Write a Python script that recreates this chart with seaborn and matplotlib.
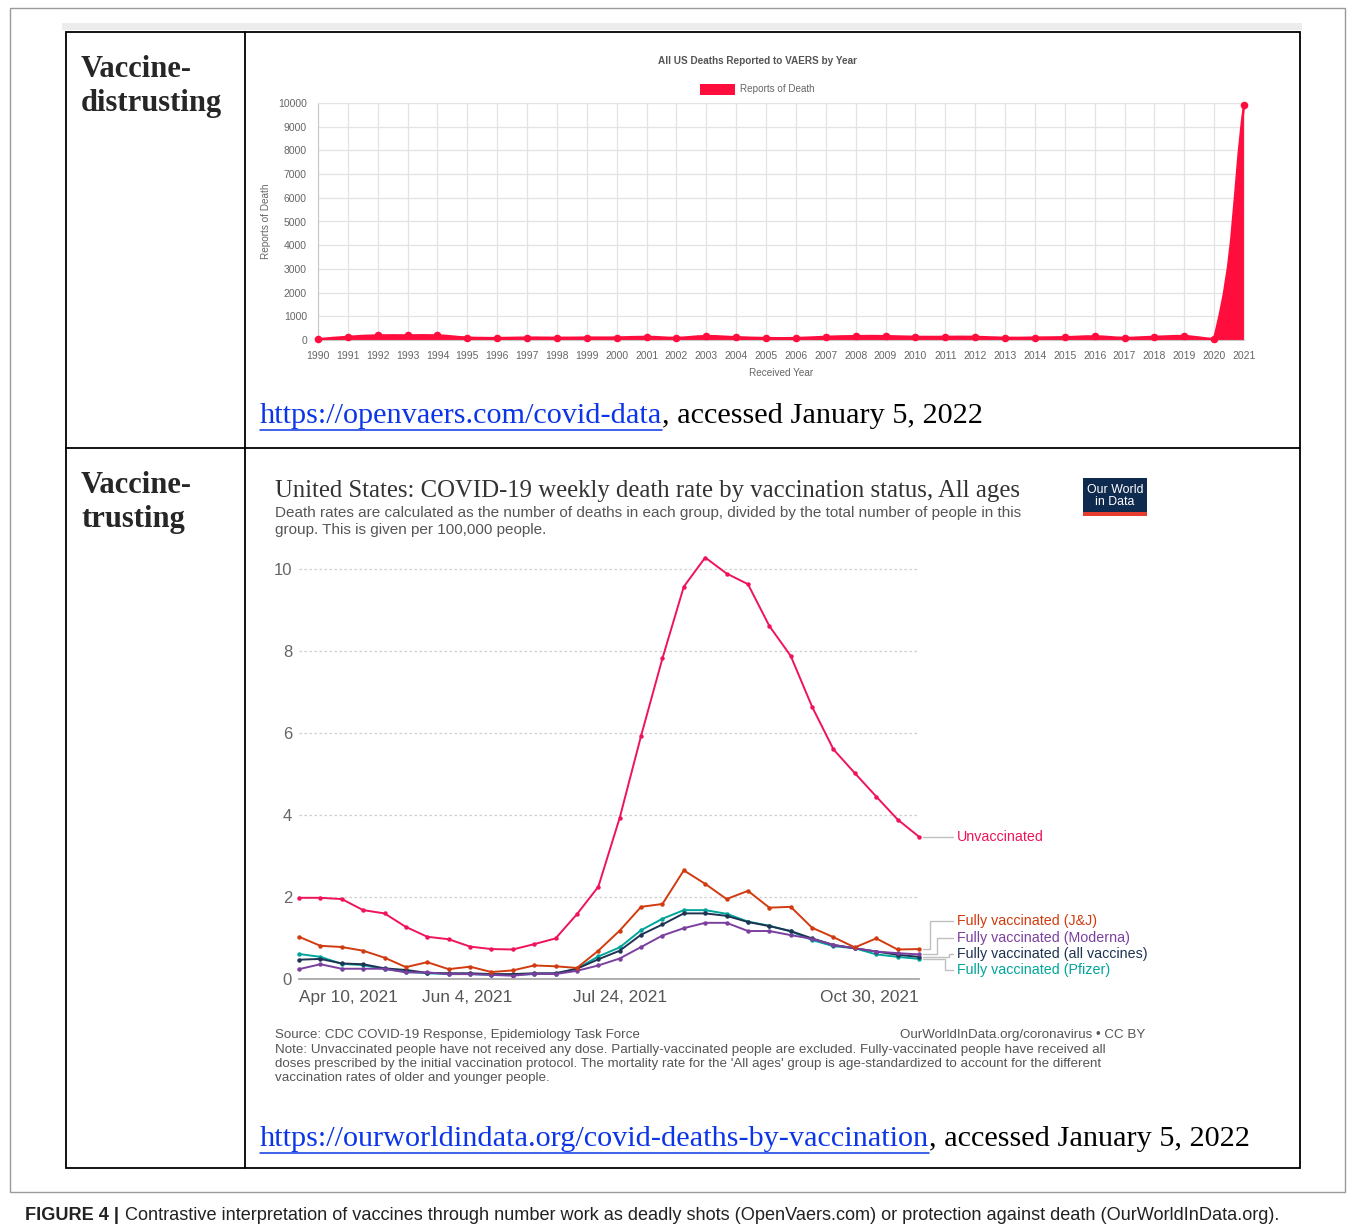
import numpy as np
import pandas as pd
import seaborn as sns
import matplotlib.pyplot as plt
import matplotlib.dates as mdates
from matplotlib.patches import Rectangle, PathPatch
from matplotlib.lines import Line2D
from matplotlib.path import Path

# --- top panel: VAERS deaths by year ---
years = list(range(1990, 2022))
deaths = [30, 130, 190, 190, 190, 100, 80, 100, 90, 100, 100, 130, 90, 160, 115, 80,
          80, 130, 160, 160, 130, 130, 130, 90, 100, 115, 150, 90, 130, 160, 60, 9900]

# --- bottom panel: OWID weekly death rate per 100k ---
weeks = ['2021-04-10', '2021-04-17', '2021-04-24', '2021-05-01', '2021-05-08', '2021-05-15',
         '2021-05-22', '2021-05-29', '2021-06-05', '2021-06-12', '2021-06-19', '2021-06-26',
         '2021-07-03', '2021-07-10', '2021-07-17', '2021-07-24', '2021-07-31', '2021-08-07',
         '2021-08-14', '2021-08-21', '2021-08-28', '2021-09-04', '2021-09-11', '2021-09-18',
         '2021-09-25', '2021-10-02', '2021-10-09', '2021-10-16', '2021-10-23', '2021-10-30']
unvax = [1.98, 1.98, 1.95, 1.68, 1.60, 1.27, 1.03, 0.97, 0.79, 0.73, 0.72, 0.85, 0.99, 1.58, 2.25,
         3.93, 5.93, 7.82, 9.57, 10.28, 9.89, 9.63, 8.61, 7.88, 6.64, 5.60, 5.02, 4.45, 3.89, 3.47]
jj = [1.03, 0.81, 0.78, 0.69, 0.52, 0.29, 0.41, 0.24, 0.30, 0.17, 0.21, 0.33, 0.31, 0.27, 0.69,
      1.18, 1.76, 1.83, 2.65, 2.32, 1.95, 2.15, 1.74, 1.76, 1.25, 1.02, 0.77, 0.99, 0.72, 0.73]
moderna = [0.24, 0.36, 0.25, 0.25, 0.25, 0.16, 0.16, 0.12, 0.12, 0.10, 0.08, 0.13, 0.12, 0.20, 0.33,
           0.50, 0.78, 1.06, 1.24, 1.37, 1.37, 1.17, 1.17, 1.07, 0.98, 0.83, 0.75, 0.67, 0.63, 0.60]
all_vax = [0.47, 0.49, 0.38, 0.36, 0.26, 0.22, 0.15, 0.14, 0.14, 0.12, 0.12, 0.14, 0.14, 0.25, 0.48,
           0.69, 1.08, 1.33, 1.60, 1.60, 1.54, 1.39, 1.29, 1.17, 0.99, 0.83, 0.75, 0.67, 0.59, 0.54]
pfizer = [0.61, 0.54, 0.37, 0.34, 0.24, 0.18, 0.14, 0.12, 0.12, 0.10, 0.10, 0.12, 0.13, 0.25, 0.55,
          0.77, 1.19, 1.47, 1.68, 1.68, 1.59, 1.40, 1.30, 1.16, 0.95, 0.80, 0.75, 0.60, 0.54, 0.49]

status_names = ['Fully vaccinated (Pfizer)', 'Fully vaccinated (all vaccines)',
                'Fully vaccinated (Moderna)', 'Fully vaccinated (J&J)', 'Unvaccinated']
status_colors = ['#00a59b', '#1f3352', '#7b3fa0', '#d13b0f', '#ef1359']
label_y = [0.22, 0.61, 1.0, 1.41, 3.47]

W, H = 1355, 1230
sns.set_style('white')
plt.rcParams['font.family'] = ['Liberation Sans', 'DejaVu Sans']

fig = plt.figure(figsize=(W / 100, H / 100), dpi=100)


def fx(px):
    return px / W


def fy(py):
    return 1 - py / H


def hline(x0, x1, y, **kw):
    fig.add_artist(Line2D([fx(x0), fx(x1)], [fy(y), fy(y)], transform=fig.transFigure, **kw))


def vline(x, y0, y1, **kw):
    fig.add_artist(Line2D([fx(x), fx(x)], [fy(y0), fy(y1)], transform=fig.transFigure, **kw))


def smooth_path(xs, ys, sx, sy, tension=0.4):
    # chart.js style bezier through the points (sx, sy = pixels per data unit)
    P = np.column_stack([np.asarray(xs, float) * sx, np.asarray(ys, float) * sy])
    n = len(P)
    cp_in, cp_out = P.copy(), P.copy()
    for i in range(n):
        prev = P[max(i - 1, 0)]
        nxt = P[min(i + 1, n - 1)]
        d01 = np.hypot(*(P[i] - prev))
        d12 = np.hypot(*(nxt - P[i]))
        tot = d01 + d12 if d01 + d12 > 0 else 1
        cp_in[i] = P[i] - tension * d01 / tot * (nxt - prev)
        cp_out[i] = P[i] + tension * d12 / tot * (nxt - prev)
    cp_in[:, 1] = np.maximum(cp_in[:, 1], 0)
    cp_out[:, 1] = np.maximum(cp_out[:, 1], 0)
    verts = [P[0]]
    codes = [Path.MOVETO]
    for i in range(n - 1):
        verts += [cp_out[i], cp_in[i + 1], P[i + 1]]
        codes += [Path.CURVE4] * 3
    verts = np.array(verts) / np.array([sx, sy])
    return verts, codes


# page frame, ruler strip and table
fig.add_artist(Rectangle((fx(10), fy(1192)), fx(1345) - fx(10), fy(8) - fy(1192),
                         transform=fig.transFigure, fill=False, ec='#9a9a9a', lw=1))
fig.add_artist(Rectangle((fx(62), fy(30)), fx(1302) - fx(62), fy(23) - fy(30),
                         transform=fig.transFigure, fc='#ececec', ec='none'))
fig.add_artist(Rectangle((fx(66), fy(1168)), fx(1300) - fx(66), fy(32) - fy(1168),
                         transform=fig.transFigure, fill=False, ec='black', lw=1.3))
vline(245, 32, 1168, color='black', lw=1.3)
hline(66, 1300, 448, color='black', lw=1.3)

for word, ypx in [('Vaccine-', 77), ('distrusting', 111), ('Vaccine-', 493), ('trusting', 527)]:
    fig.text(fx(81), fy(ypx), word, family='Liberation Serif', weight='bold',
             fontsize=22, va='baseline', ha='left')

# ---------------- top chart ----------------
red = '#ff0d3d'
ax1 = fig.add_axes([fx(318), fy(340), fx(1244) - fx(318), fy(103) - fy(340)])
sx = 926 / 31.0
sy = 237 / 10000.0
verts, codes = smooth_path(years, deaths, sx, sy)
base = np.array([[years[-1], 0.0], [years[0], 0.0], verts[0]])
fill_verts = np.vstack([verts, base])
fill_codes = codes + [Path.LINETO, Path.LINETO, Path.CLOSEPOLY]
ax1.add_patch(PathPatch(Path(fill_verts, fill_codes), fc=red, ec='none', zorder=2))
ax1.add_patch(PathPatch(Path(verts, codes), fc='none', ec=red, lw=1.8, zorder=3, clip_on=False))
sns.scatterplot(x=years, y=deaths, ax=ax1, color=red, s=30, linewidth=0, clip_on=False, zorder=4)
ax1.set_xlim(1990, 2021)
ax1.set_ylim(0, 10000)
ax1.set_xticks(years)
ax1.set_yticks(range(0, 10001, 1000))
ax1.grid(True, color='#e3e3e3', lw=0.9)
ax1.tick_params(axis='both', labelsize=7.5, colors='#e3e3e3', labelcolor='#666666', length=5, pad=3)
for s in ['top', 'right']:
    ax1.spines[s].set_color('#e3e3e3')
ax1.spines['left'].set_color('#c8c8c8')
ax1.spines['bottom'].set_color('#c8c8c8')
ax1.set_xlabel('Received Year', fontsize=7.2, color='#666666', labelpad=5)
ax1.set_ylabel('Reports of Death', fontsize=7.2, color='#666666', labelpad=5)
fig.text(fx(758), fy(61), 'All US Deaths Reported to VAERS by Year', fontsize=7.2, weight='bold',
         color='#555555', ha='center', va='center')
fig.add_artist(Rectangle((fx(700), fy(95)), fx(735) - fx(700), fy(84) - fy(95),
                         transform=fig.transFigure, fc=red, ec='none'))
fig.text(fx(740), fy(89), 'Reports of Death', fontsize=7.1, color='#666666', ha='left', va='center')

# ---------------- bottom chart ----------------
df = pd.DataFrame({'week': pd.to_datetime(weeks), 'Unvaccinated': unvax,
                   'Fully vaccinated (J&J)': jj, 'Fully vaccinated (Moderna)': moderna,
                   'Fully vaccinated (all vaccines)': all_vax, 'Fully vaccinated (Pfizer)': pfizer})
long = df.melt(id_vars='week', var_name='status', value_name='rate')

ymax = 10.5
ax2 = fig.add_axes([fx(299), fy(979), fx(919) - fx(299), fy(979 - ymax * 41) - fy(979)])
sns.lineplot(data=long, x='week', y='rate', hue='status', hue_order=status_names,
             palette=dict(zip(status_names, status_colors)), ax=ax2, legend=False,
             lw=1.4, marker='o', markersize=3.2, markeredgewidth=0, clip_on=False)
x0 = mdates.date2num(pd.Timestamp(weeks[0]))
x1 = mdates.date2num(pd.Timestamp(weeks[-1]))
ax2.set_xlim(x0, x1)
ax2.set_ylim(0, ymax)
ax2.set_yticks([0, 2, 4, 6, 8, 10])
ax2.yaxis.grid(True, color='#cfcfcf', ls=(0, (2, 2)), lw=0.9)
ax2.xaxis.grid(False)
for s in ['top', 'right', 'left']:
    ax2.spines[s].set_visible(False)
ax2.spines['bottom'].set_color('#a8a8a8')
ax2.spines['bottom'].set_linewidth(1.3)
tick_dates = ['2021-04-10', '2021-06-04', '2021-07-24', '2021-10-30']
ax2.set_xticks([mdates.date2num(pd.Timestamp(d)) for d in tick_dates])
ax2.set_xticklabels(['Apr 10, 2021', 'Jun 4, 2021', 'Jul 24, 2021', 'Oct 30, 2021'])
labels = ax2.get_xticklabels()
labels[0].set_ha('left')
labels[-1].set_ha('right')
ax2.tick_params(axis='x', labelsize=12.4, labelcolor='#555555', color='#a8a8a8', length=5, width=1, pad=3)
ax2.tick_params(axis='y', labelsize=12, labelcolor='#666666', length=0, pad=5)
ax2.set_xlabel('')
ax2.set_ylabel('')

# series labels with connectors
end_vals = [pfizer[-1], all_vax[-1], moderna[-1], jj[-1], unvax[-1]]
elbow_px = [26, 30, 18, 11, None]
dx = (x1 - x0) / 620.0
for name, col, ly, ev, ex in zip(status_names, status_colors, label_y, end_vals, elbow_px):
    if ex is None:
        ax2.plot([x1 + 4 * dx, x1 + 34 * dx], [ev, ly], color='#c0c0c0', lw=1, clip_on=False)
    else:
        xe = x1 + ex * dx
        ax2.plot([x1 + 4 * dx, xe, xe, x1 + 34 * dx], [ev, ev, ly, ly],
                 color='#c0c0c0', lw=1, clip_on=False)
    ax2.text(x1 + 38 * dx, ly, name, color=col, fontsize=10.3, ha='left', va='center')

fig.text(fx(275), fy(491), 'United States: COVID-19 weekly death rate by vaccination status, All ages',
         family='Liberation Serif', fontsize=17.8, color='#333333', ha='left', va='center')
fig.text(fx(275), fy(506), 'Death rates are calculated as the number of deaths in each group, divided by '
         'the total number of people in this\ngroup. This is given per 100,000 people.',
         fontsize=11, color='#555555', ha='left', va='top', linespacing=1.3)

# OWID logo
fig.add_artist(Rectangle((fx(1083), fy(515)), fx(1147) - fx(1083), fy(478) - fy(515),
                         transform=fig.transFigure, fc='#0f2a4f', ec='none'))
fig.add_artist(Rectangle((fx(1083), fy(516)), fx(1147) - fx(1083), fy(512) - fy(516),
                         transform=fig.transFigure, fc='#e63b2e', ec='none'))
fig.text(fx(1115), fy(496), 'Our World\nin Data', color='white', fontsize=8.9, ha='center',
         va='center', linespacing=0.92)

fig.text(fx(275), fy(1035), 'Source: CDC COVID-19 Response, Epidemiology Task Force',
         fontsize=9.6, color='#555555', ha='left', va='center')
fig.text(fx(1145), fy(1035), 'OurWorldInData.org/coronavirus \u2022 CC BY',
         fontsize=9.6, color='#555555', ha='right', va='center')
fig.text(fx(275), fy(1044), "Note: Unvaccinated people have not received any dose. Partially-vaccinated "
         "people are excluded. Fully-vaccinated people have received all\ndoses prescribed by the "
         "initial vaccination protocol. The mortality rate for the 'All ages' group is age-standardized "
         "to account for the different\nvaccination rates of older and younger people.",
         fontsize=9.6, color='#555555', ha='left', va='top', linespacing=1.25)

# URLs with underline
fig.canvas.draw()
renderer = fig.canvas.get_renderer()
for url, ypx in [('https://openvaers.com/covid-data', 416),
                 ('https://ourworldindata.org/covid-deaths-by-vaccination', 1139)]:
    t = fig.text(fx(260), fy(ypx), url, family='Liberation Serif', fontsize=21.8,
                 color='#0b35e6', ha='left', va='center')
    bb = t.get_window_extent(renderer)
    fig.text(bb.x1 / W, fy(ypx), ', accessed January 5, 2022', family='Liberation Serif',
             fontsize=21.8, color='black', ha='left', va='center')
    hline(260, bb.x1, ypx + 14, color='#0b35e6', lw=1.1)

t = fig.text(fx(25), fy(1215), 'FIGURE 4 |', fontsize=13.1, weight='bold', color='#222222',
             ha='left', va='center')
bb = t.get_window_extent(renderer)
fig.text(bb.x1 / W + fx(6), fy(1215), 'Contrastive interpretation of vaccines through number work as '
         'deadly shots (OpenVaers.com) or protection against death (OurWorldInData.org).',
         fontsize=13.1, color='#222222', ha='left', va='center')

fig.savefig('out.png', dpi=100)
